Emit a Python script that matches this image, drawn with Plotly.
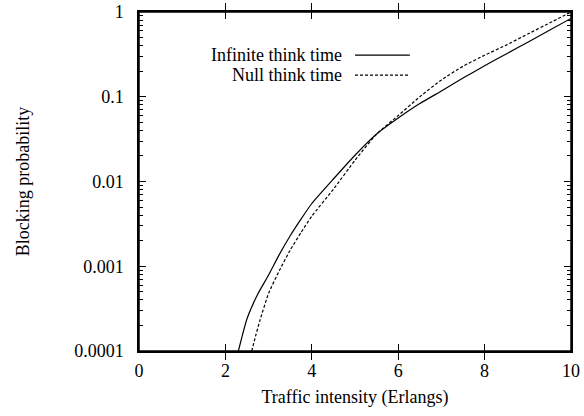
import plotly.graph_objects as go

# Infinite think time (solid)
inf_x = [2.30, 2.4, 2.5, 2.75, 3.0, 3.25, 3.5, 3.75, 4.0, 4.5, 5.0, 5.5, 6.0, 6.5, 7.0, 7.5, 8.0, 8.5, 9.0, 9.5, 10.0]
inf_y = [1.0e-4, 1.58e-4, 2.4e-4, 4.7e-4, 7.9e-4, 1.38e-3, 2.29e-3, 3.6e-3, 5.5e-3, 0.0107, 0.0204,
         0.0363, 0.056, 0.083, 0.117, 0.166, 0.232, 0.32, 0.44, 0.61, 0.84]

# Null think time (dashed)
null_x = [2.61, 2.7, 2.8, 3.0, 3.25, 3.5, 3.75, 4.0, 4.5, 5.0, 5.5, 6.0, 6.5, 7.0, 7.5, 8.0, 8.5, 9.0, 9.5, 10.0]
null_y = [1.0e-4, 1.51e-4, 2.3e-4, 4.8e-4, 8.9e-4, 1.55e-3, 2.5e-3, 3.9e-3, 8.1e-3, 0.0178, 0.0363,
          0.060, 0.100, 0.158, 0.229, 0.309, 0.407, 0.55, 0.74, 1.0]

x_ticks = [0, 2, 4, 6, 8, 10]
y_ticks = [1e-4, 1e-3, 1e-2, 1e-1, 1]
y_tick_labels = ["0.0001", "0.001", "0.01", "0.1", "1"]
y_minor = [m * 10.0 ** e for e in range(-4, 0) for m in range(2, 10)]

legend_names = ["Infinite think time", "Null think time"]

FONT = "Times New Roman, Liberation Serif, serif"
FS = 18

fig = go.Figure()
fig.add_trace(go.Scatter(x=inf_x, y=inf_y, mode="lines", name=legend_names[0],
                         line=dict(color="black", width=1.2, shape="spline", smoothing=0.5),
                         showlegend=False))
fig.add_trace(go.Scatter(x=null_x, y=null_y, mode="lines", name=legend_names[1],
                         line=dict(color="black", width=1.2, dash="3px,2px", shape="spline", smoothing=0.5),
                         showlegend=False))
# invisible copy on the overlay axis that carries the minor log ticks
fig.add_trace(go.Scatter(x=inf_x, y=inf_y, mode="lines", yaxis="y2", opacity=0,
                         hoverinfo="skip", showlegend=False, line=dict(color="black", width=1)))

# gnuplot-style legend: right-aligned text with line sample to the right
leg_rows = [(0.873, "solid"), (0.814, "3px,2px")]
for (yp, dash), name in zip(leg_rows, legend_names):
    fig.add_annotation(xref="paper", yref="paper", x=0.474, y=yp, text=name,
                       showarrow=False, xanchor="right", yanchor="middle",
                       font=dict(family=FONT, size=FS, color="black"))
    fig.add_shape(type="line", xref="paper", yref="paper", x0=0.5, x1=0.627, y0=yp, y1=yp,
                  line=dict(color="black", width=1.2, dash=dash))

# plot frame drawn as four lines (gnuplot border)
for x0, y0, x1, y1 in [(0, 1, 1, 1), (1, 0, 1, 1), (0, 0, 1, 0), (0, 0, 0, 1)]:
    fig.add_shape(type="line", xref="paper", yref="paper", x0=x0, y0=y0, x1=x1, y1=y1,
                  line=dict(color="black", width=1.5))

axis_common = dict(showline=True, linecolor="black", linewidth=1.5, mirror="allticks",
                   ticks="inside", tickcolor="black", ticklen=7, tickwidth=1.2,
                   showgrid=False, zeroline=False, automargin=False,
                   tickfont=dict(family=FONT, size=FS, color="black"),
                   title_font=dict(family=FONT, size=FS, color="black"))

fig.update_layout(
    xaxis=dict(range=[0, 10], tickvals=x_ticks, ticklabelstandoff=3,
               title=dict(text="Traffic intensity (Erlangs)", standoff=10), **axis_common),
    yaxis=dict(type="log", range=[-4, 0], tickvals=y_ticks, ticktext=y_tick_labels,
               ticklabelstandoff=10,
               title=dict(text="Blocking probability", standoff=40), **axis_common),
    yaxis2=dict(type="log", range=[-4, 0], overlaying="y", side="left", tickvals=y_minor,
                ticks="inside", ticklen=4, tickwidth=1.2, tickcolor="black", mirror="ticks",
                showticklabels=False, showgrid=False, zeroline=False, showline=False,
                automargin=False),
    width=584, height=416, plot_bgcolor="white", paper_bgcolor="white",
    margin=dict(l=139, r=13, t=12, b=65),
    font=dict(family=FONT, size=FS, color="black"))

# remove the browser's default page margin and scrollbars so the figure fills the window exactly
page_fix = "document.body.style.margin='0';document.body.style.overflow='hidden';"

fig.write_html("out.html", post_script=page_fix, config={"displayModeBar": False})
